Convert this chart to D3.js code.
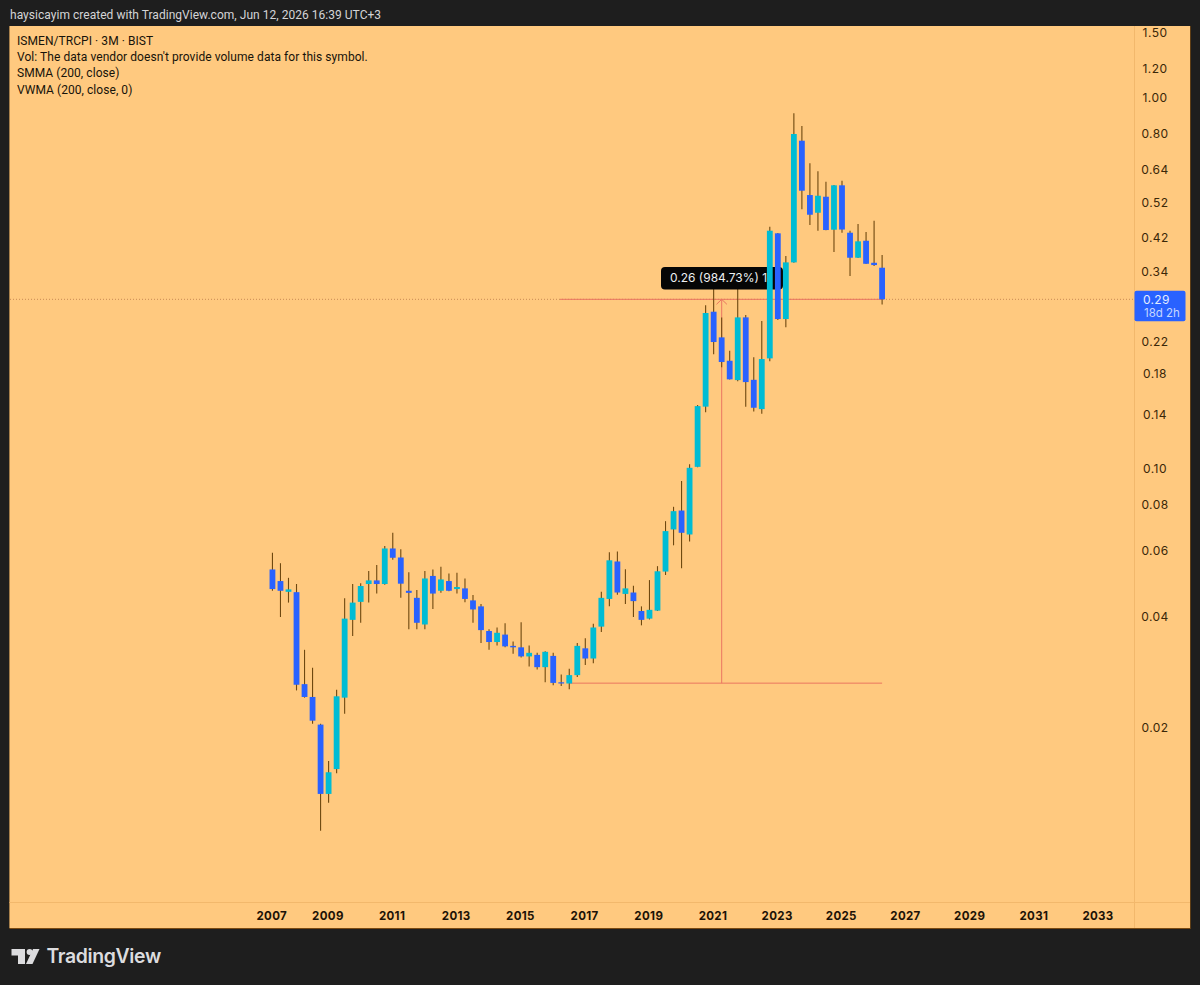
<!DOCTYPE html>
<html>
<head>
<meta charset="utf-8">
<script src="https://cdn.jsdelivr.net/npm/d3@7"></script>
<style>
html,body{margin:0;padding:0;background:#1e1e1e;overflow:hidden}
svg{display:block}
text{font-family:Inter,"Noto Sans",sans-serif}
</style>
</head>
<body>
<svg id="c" width="1200" height="985"></svg>
<script>
// Quarterly candles from 2007 Q2 through 2026 Q2
const firstYear = 2007.25;
const opens = [.0532,.0495,.0463,.0462,.0261,.0241,.0203,.0132,.0154,.0240,.0389,.0435,.0486,.0497,.0486,.0606,.0573,.0466,.0446,.0378,.0511,.0466,.0495,.0471,.0473,.0439,.0423,.0363,.0339,.0355,.0331,.0328,.0310,.0313,.0290,.0311,.0264,.0262,.0276,.0326,.0306,.0373,.0443,.0559,.0457,.0461,.0411,.0392,.0412,.0525,.0682,.0767,.0661,.1006,.1462,.2636,.2248,.1944,.1724,.2545,.1727,.1440,.1973,.4289,.2519,.3581,.7623,.5440,.4874,.5383,.4386,.5779,.4305,.3686,.4096,.3572,.3464];
const highs = [.0590,.0553,.0505,.0486,.0323,.0289,.0204,.0162,.0252,.0445,.0486,.0488,.0527,.0547,.0615,.0668,.0603,.0523,.0468,.0527,.0532,.0541,.0519,.0521,.0503,.0454,.0429,.0367,.0371,.0381,.0340,.0383,.0332,.0317,.0320,.0317,.0277,.0287,.0337,.0347,.0380,.0463,.0592,.0595,.0533,.0481,.0423,.0498,.0543,.0718,.0785,.0921,.1023,.1476,.2742,.3046,.2545,.2069,.3046,.2582,.1986,.2488,.4468,.4300,.3724,.9037,.8352,.6625,.6304,.5909,.5790,.5947,.4359,.4544,.4324,.4638,.3748];
const lows = [.0466,.0396,.0433,.0251,.0240,.0204,.0105,.0125,.0150,.0217,.0352,.0382,.0433,.0458,.0484,.0565,.0446,.0367,.0367,.0367,.0416,.0460,.0465,.0458,.0434,.0382,.0337,.0323,.0332,.0328,.0315,.0308,.0291,.0286,.0264,.0259,.0258,.0253,.0273,.0294,.0297,.0361,.0423,.0455,.0429,.0396,.0376,.0390,.0411,.0514,.0618,.0536,.0633,.1004,.1413,.2023,.1866,.1730,.1713,.1461,.1419,.1398,.1937,.2503,.2392,.3575,.4978,.4515,.4359,.4370,.3818,.4305,.3290,.3680,.3545,.3500,.2759];
const closes = [.0471,.0466,.0470,.0260,.0241,.0208,.0132,.0151,.0242,.0392,.0433,.0480,.0497,.0486,.0606,.0572,.0487,.0460,.0382,.0503,.0458,.0500,.0466,.0477,.0443,.0415,.0365,.0339,.0359,.0330,.0328,.0310,.0317,.0290,.0319,.0263,.0262,.0276,.0331,.0306,.0371,.0446,.0563,.0461,.0473,.0437,.0389,.0414,.0526,.0675,.0764,.0668,.1000,.1467,.2615,.2184,.1929,.1732,.2545,.1703,.1452,.1965,.4359,.2519,.3581,.7947,.5588,.4814,.5417,.4378,.5779,.4391,.3686,.4081,.3550,.3522,.2847];

const priceTicks = [1.5,1.2,1,.8,.64,.52,.42,.34,.22,.18,.14,.1,.08,.06,.04,.02];
const yearTicks = [2007.25,2009,2011,2013,2015,2017,2019,2021,2023,2025,2027,2029,2031,2033];

const lastPrice = closes[closes.length-1];
const measureFrom = 0.02626;
const measureLabel = "0.26 (984.73%) 1";
const lastLabel = "0.29";
const countdownLabel = "18d 2h";
const headerText = "haysicayim created with TradingView.com, Jun 12, 2026 16:39 UTC+3";
const legendLines = ["ISMEN/TRCPI · 3M · BIST","Vol: The data vendor doesn't provide volume data for this symbol.","SMMA (200, close)","VWMA (200, close, 0)"];

const UP="#00bcd4", DOWN="#2962ff", WICK="#6e4810", PANEL="#ffc97f", GRID="#f2b86c", INK="#3a2708", MEASURE="#ea7560";
const svg=d3.select("#c");
const y=d3.scaleLog().domain([1,.02]).range([97,727]);
const x=d3.scaleLinear().domain([2009,2033]).range([327.8,1097.9]);
const xOf=i=>x(firstYear+i*.25)+.8;
const data=opens.map((o,i)=>({i,o,h:highs[i],l:lows[i],c:closes[i]}));
const bodyW=5.8;

// frame
svg.append("rect").attr("x",9.5).attr("y",26).attr("width",1181.2).attr("height",903).attr("fill","#7a4a12");
svg.append("rect").attr("x",9.5).attr("y",26).attr("width",1180.5).attr("height",902).attr("fill",PANEL);
svg.append("line").attr("x1",9.5).attr("x2",1190).attr("y1",902.5).attr("y2",902.5).attr("stroke",GRID);
svg.append("line").attr("x1",1134.5).attr("x2",1134.5).attr("y1",26).attr("y2",928).attr("stroke",GRID);

// header and logo
svg.append("text").attr("x",10).attr("y",19).attr("fill","#d4d4d6").attr("font-size",12).style("font-family","Roboto,sans-serif").attr("letter-spacing",.03).text(headerText);
svg.append("path").attr("fill","#dcdcde").attr("d","M11.5 949H25V964H18V955.5H11.5Z");
svg.append("circle").attr("cx",29.6).attr("cy",952).attr("r",3).attr("fill","#dcdcde");
svg.append("path").attr("fill","#dcdcde").attr("d","M33 949H39.5L32.5 964H26Z");
svg.append("text").attr("x",46.5).attr("y",963).attr("fill","#dcdcde").attr("font-size",19.4).attr("font-weight",600).attr("letter-spacing",-.35).text("TradingView");

// legend
const legendY=[41,57,73,89.5];
svg.append("g").selectAll("text").data(legendLines).join("text")
  .attr("x",17).attr("y",(d,i)=>legendY[i]+4).attr("fill","#17130a").attr("font-size",12).style("font-family","Roboto,sans-serif").attr("letter-spacing",.06).text(d=>d);

// last-price dotted line
svg.append("line").attr("x1",10).attr("x2",1134).attr("y1",y(lastPrice)).attr("y2",y(lastPrice))
  .attr("stroke","#c98a55").attr("stroke-width",1).attr("stroke-dasharray","1 2");

// measure tool
const mg=svg.append("g").attr("stroke",MEASURE).attr("fill","none").attr("stroke-width",1);
mg.append("line").attr("x1",560).attr("x2",xOf(76)).attr("y1",y(lastPrice)).attr("y2",y(lastPrice));
mg.append("line").attr("x1",569).attr("x2",xOf(76)).attr("y1",y(measureFrom)).attr("y2",y(measureFrom));
mg.append("line").attr("x1",721.7).attr("x2",721.7).attr("y1",y(lastPrice)).attr("y2",y(measureFrom));
mg.append("path").attr("d",`M716.5 ${y(lastPrice)+5}L721.7 ${y(lastPrice)}L726.9 ${y(lastPrice)+5}`);

// wicks
svg.append("g").selectAll("line").data(data).join("line")
  .attr("x1",d=>xOf(d.i)).attr("x2",d=>xOf(d.i)).attr("y1",d=>y(d.h)).attr("y2",d=>y(d.l))
  .attr("stroke",WICK).attr("stroke-width",1.1);

// measure tooltip
svg.append("rect").attr("x",661).attr("y",267).attr("width",122).attr("height",22.5).attr("rx",4).attr("fill","#060606");
svg.append("text").attr("x",670).attr("y",282.3).attr("fill","#eceff2").attr("font-size",12).text(measureLabel);

// bodies
svg.append("g").selectAll("rect").data(data).join("rect")
  .attr("x",d=>xOf(d.i)-bodyW/2).attr("width",bodyW)
  .attr("y",d=>y(Math.max(d.o,d.c)))
  .attr("height",d=>Math.max(1,y(Math.min(d.o,d.c))-y(Math.max(d.o,d.c))))
  .attr("fill",d=>d.c>=d.o?UP:DOWN);

// price axis
const ya=d3.axisRight(y).tickValues(priceTicks).tickFormat(d3.format(".2f")).tickSize(0);
const yg=svg.append("g").attr("transform","translate(1155,.8)").call(ya);
yg.select(".domain").remove();
yg.selectAll("text").attr("x",0).attr("text-anchor","middle").attr("fill",INK).attr("font-size",12).attr("letter-spacing",.45)
  .style("font-family","Inter,sans-serif");

// time axis
const xa=d3.axisBottom(x).tickValues(yearTicks).tickFormat(d=>String(Math.floor(d))).tickSize(0);
const xg=svg.append("g").attr("transform","translate(-.4,907.5)").call(xa);
xg.select(".domain").remove();
xg.selectAll("text").attr("y",4).attr("text-anchor","middle").attr("fill","#1c1206").attr("font-size",11.5).attr("font-weight",700).attr("letter-spacing",.35)
  .style("font-family","Inter,sans-serif");

// last-price tag
svg.append("rect").attr("x",1134.5).attr("y",290.7).attr("width",51).attr("height",30.5).attr("rx",2).attr("fill",DOWN);
svg.append("text").attr("x",1143).attr("y",303.5).attr("fill","#e3ecff").attr("font-size",12).attr("letter-spacing",.3).text(lastLabel);
svg.append("text").attr("x",1144).attr("y",316.5).attr("fill","#c6d7ff").attr("font-size",11.5).text(countdownLabel);
</script>
</body>
</html>
